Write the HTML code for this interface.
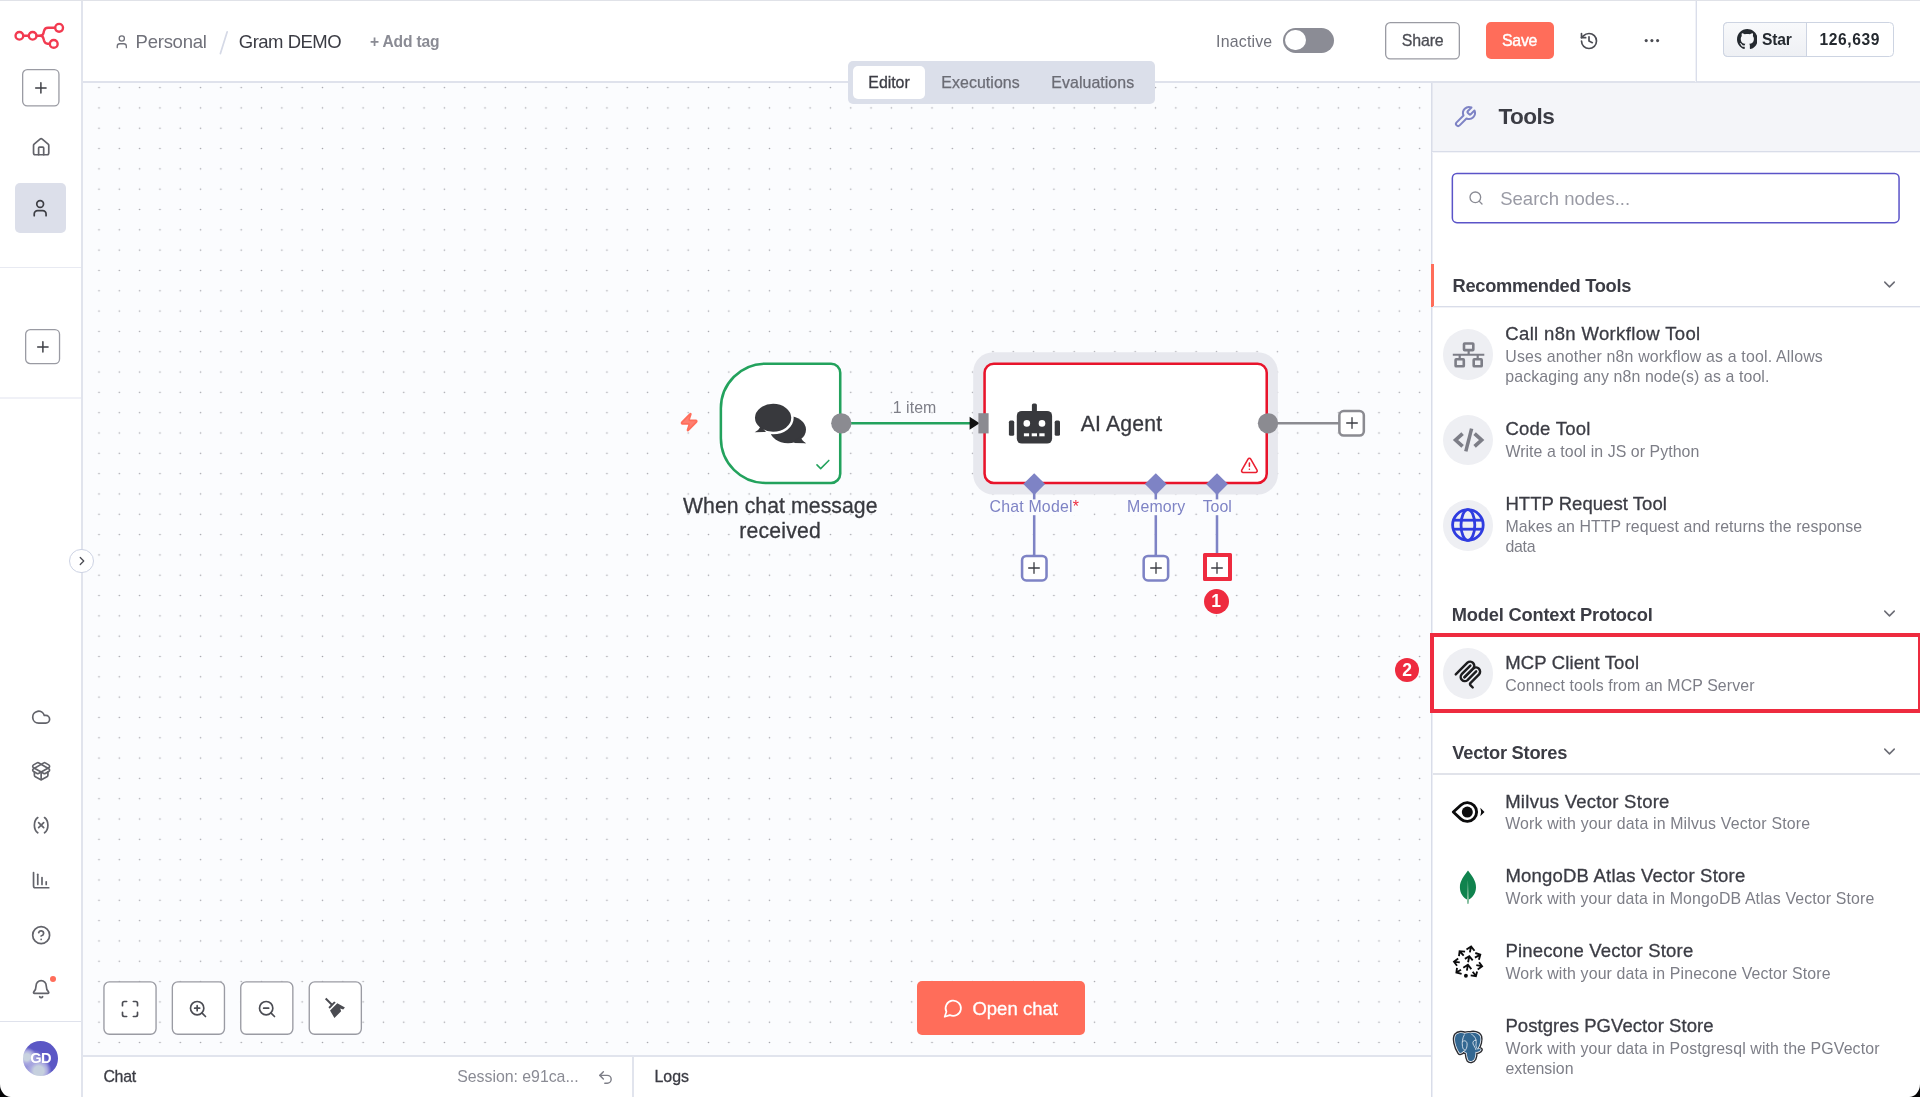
<!DOCTYPE html>
<html lang="en">
<head>
<meta charset="utf-8">
<title>Gram DEMO - n8n</title>
<style>
*{box-sizing:border-box;margin:0;padding:0}
html,body{width:1920px;height:1097px;overflow:hidden;background:#fff}
body{will-change:transform;position:relative;font-family:"Liberation Sans",sans-serif;color:#3b3c44;-webkit-font-smoothing:antialiased}
.abs,.t,svg.i{position:absolute}
.t{white-space:nowrap;line-height:1;display:block}
svg.i{fill:none;stroke:currentColor;stroke-width:2;stroke-linecap:round;stroke-linejoin:round;overflow:visible}
.m5{-webkit-text-stroke:0.35px currentColor}
.ln{position:absolute;background:#e1e4ed}
/* ---------- canvas ---------- */
#canvas{left:83px;top:83px;width:1348px;height:972px;background:#fbfcfe;overflow:hidden}
/* ---------- sidebar ---------- */
#side{left:0;top:0;width:83px;height:1097px;background:#fff;border-right:2px solid #e1e4ed}
.sqbtn{position:absolute;background:#fff;border:1.3px solid #96969e;border-radius:5px}
/* ---------- header ---------- */
#head{left:83px;top:0;width:1837px;height:83px;background:#fff;border-bottom:2px solid #dfe2ec}
/* ---------- panel ---------- */
#panel{left:1431px;top:83px;width:489px;height:1014px;background:#fff;border-left:1px solid #d9dde9;box-shadow:inset 1px 0 0 #eceef5}
#phead{left:1432px;top:83px;width:488px;height:69px;background:#f4f5f9;border-bottom:1px solid #d9dde9;box-shadow:inset 1px 0 0 #e6e8f0,0 1px 0 #f3f4f8}
.circ{position:absolute;width:50.5px;height:50.5px;border-radius:50%;background:#eeeff3}
/* ---------- bottom chat bar ---------- */
#chatbar{left:83px;top:1055px;width:1348px;height:42px;background:#fff;border-top:2px solid #e1e4ed}
.red{color:#ee2b3f}
</style>
</head>
<body>
<!--CANVAS-->
<div class="abs" id="canvas"></div>
<svg class="abs" style="left:83px;top:83px" width="1348" height="972" viewBox="83 83 1348 972">
  <defs>
    <pattern id="dots" patternUnits="userSpaceOnUse" x="88.84" y="77.44" width="20.3175" height="20.3175">
      <circle cx="10.16" cy="10.16" r="0.8" fill="#a2a2a9"/>
    </pattern>
  </defs>
  <rect x="83" y="83" width="1348" height="972" fill="url(#dots)"/>
  <!-- AI agent halo -->
  <rect x="973.2" y="352.2" width="304.7" height="142.2" rx="20" fill="#e7e8ee"/>
  <!-- main edge trigger -> agent -->
  <line x1="841" y1="423.3" x2="971" y2="423.3" stroke="#23a25d" stroke-width="2.54"/>
  <path d="M969.6 416.8 L979.6 423.3 L969.6 429.8 Z" fill="#111"/>
  <!-- agent output edge -->
  <line x1="1268" y1="423.3" x2="1339" y2="423.3" stroke="#8b8b91" stroke-width="2.54"/>
  <!-- ai sub-connection lines -->
  <g stroke="#7e83c5" stroke-width="2.54">
    <line x1="1034.2" y1="484" x2="1034.2" y2="556"/>
    <line x1="1155.8" y1="484" x2="1155.8" y2="556"/>
    <line x1="1217" y1="484" x2="1217" y2="556"/>
  </g>
  <!-- trigger node -->
  <path d="M765.57 363.67H831.03A9.2 9.2 0 0 1 840.23 372.87V473.73A9.2 9.2 0 0 1 831.03 482.93H765.57A44.7 44.7 0 0 1 720.87 438.23V408.37A44.7 44.7 0 0 1 765.57 363.67Z" fill="#fff" stroke="#23a25d" stroke-width="2.54"/>
  <circle cx="841.3" cy="423.3" r="10.15" fill="#8b8b91"/>
  <!-- agent node -->
  <rect x="984.57" y="363.67" width="282.16" height="119.26" rx="9.2" fill="#fff" stroke="#e8142b" stroke-width="2.54"/>
  <rect x="978.4" y="413.2" width="10.2" height="20.2" fill="#8b8b91"/>
  <circle cx="1268" cy="423.3" r="10.15" fill="#8b8b91"/>
  <g fill="#7e83c5"><path d="M1034.2 473.2 L1045.1 484.1 L1034.2 495 L1023.3 484.1Z"/><path d="M1155.8 473.2 L1166.7 484.1 L1155.8 495 L1144.9 484.1Z"/><path d="M1217 473.2 L1227.9 484.1 L1217 495 L1206.1 484.1Z"/></g>
  <!-- plus boxes -->
  <rect x="1339.37" y="411.07" width="24.46" height="24.46" rx="4.3" fill="#fff" stroke="#8b8b91" stroke-width="2.54"/>
  <rect x="1022.07" y="555.97" width="24.46" height="24.46" rx="4.3" fill="#fff" stroke="#7e83c5" stroke-width="2.54"/>
  <rect x="1143.67" y="555.97" width="24.46" height="24.46" rx="4.3" fill="#fff" stroke="#7e83c5" stroke-width="2.54"/>
  <!-- label backgrounds -->
  <g fill="#fbfcfe"><rect x="987" y="499.4" width="95" height="15.8"/><rect x="1125" y="499.4" width="63" height="15.8"/><rect x="1200" y="499.4" width="34" height="15.8"/></g>
</svg>
<svg class="i" style="left:678.75px;top:411.95px;color:#ff6d5a;stroke-width:2" width="20.3" height="20.3" viewBox="0 0 24 24"><path d="M4 14a1 1 0 0 1-.78-1.63l9.9-10.2a.5.5 0 0 1 .86.46l-1.92 6.02A1 1 0 0 0 13 10h7a1 1 0 0 1 .78 1.63l-9.9 10.2a.5.5 0 0 1-.86-.46l1.92-6.02A1 1 0 0 0 11 14z" fill="#ff7f70"/></svg>
<svg class="abs" style="left:750px;top:400px" width="60" height="48" viewBox="750 400 60 48">
  <g fill="#38393d">
    <ellipse cx="788" cy="429.7" rx="18" ry="13.6"/>
    <path d="M797 438 L806 443.2 L794 443 Z"/>
    <path d="M800 436 Q802 441 806 443.2 L796 442 Z"/>
  </g>
  <ellipse cx="773.1" cy="417.8" rx="18.1" ry="14" fill="#38393d" stroke="#fff" stroke-width="5"/>
  <g fill="#38393d">
    <ellipse cx="773.1" cy="417.8" rx="18.1" ry="14"/>
    <path d="M761 426 Q759 430 754.7 432.2 L766 432 Z"/>
  </g>
</svg>
<svg class="i" style="left:813.5px;top:456px;color:#23a25d;stroke-width:2.1" width="17.8" height="17.8" viewBox="0 0 24 24"><path d="M20 6 9 17l-5-5"/></svg>
<span class="t" style="left:683.00px;top:495px;font-size:21.2px;letter-spacing:0.086px;color:#38393f;-webkit-text-stroke:.3px #38393f;">When chat message</span>
<span class="t" style="left:739.30px;top:520px;font-size:21.2px;letter-spacing:0.188px;color:#38393f;-webkit-text-stroke:.3px #38393f;">received</span>
<span class="t" style="left:892.70px;top:400px;font-size:15.9px;letter-spacing:0.070px;color:#7d7e87;">1 item</span>
<!-- AI agent node -->
<svg class="abs" style="left:1006px;top:401px" width="58" height="46" viewBox="1006 401 58 46">
  <g fill="#38393d">
    <rect x="1016.8" y="410.9" width="35.3" height="32.7" rx="5"/>
    <rect x="1031.9" y="403.4" width="5" height="9" rx="1.6"/>
    <rect x="1008.9" y="420.6" width="5.3" height="15.2" rx="1.6"/>
    <rect x="1054.7" y="420.6" width="5.3" height="15.2" rx="1.6"/>
  </g>
  <g fill="#fff">
    <circle cx="1026.8" cy="423.4" r="3.3"/><circle cx="1042" cy="423.4" r="3.3"/>
    <rect x="1023.9" y="433.3" width="5.2" height="3"/><rect x="1031.7" y="433.3" width="5.3" height="3"/><rect x="1039.3" y="433.3" width="5.3" height="3"/>
  </g>
</svg>
<span class="t" style="left:1080.80px;top:413px;font-size:21.2px;letter-spacing:0.161px;color:#38393f;-webkit-text-stroke:.3px #38393f;">AI Agent</span>
<svg class="i" style="left:1239.5px;top:455.5px;color:#ea1f30;stroke-width:2" width="18.8" height="18.8" viewBox="0 0 24 24"><path d="m21.73 18-8-14a2 2 0 0 0-3.48 0l-8 14A2 2 0 0 0 4 21h16a2 2 0 0 0 1.73-3"/><path d="M12 9v4"/><path d="M12 17h.01"/></svg>
<!-- output plus -->
<svg class="i" style="left:1343.6px;top:415.3px;color:#3d3e44;stroke-width:2" width="16" height="16" viewBox="0 0 24 24"><path d="M4 12h16"/><path d="M12 4v16"/></svg>
<!-- labels -->
<span class="t" style="left:989.60px;top:499px;font-size:15.9px;letter-spacing:0.177px;color:#7e83c5;">Chat Model<span class="red">*</span></span>
<span class="t" style="left:1127.10px;top:499px;font-size:15.9px;letter-spacing:0.135px;color:#7e83c5;">Memory</span>
<span class="t" style="left:1202.70px;top:499px;font-size:15.9px;letter-spacing:-0.014px;color:#7e83c5;">Tool</span>
<!-- plus boxes -->
<svg class="i" style="left:1026.3px;top:560.2px;color:#3d3e44;stroke-width:2" width="16" height="16" viewBox="0 0 24 24"><path d="M4 12h16"/><path d="M12 4v16"/></svg>
<svg class="i" style="left:1147.9px;top:560.2px;color:#3d3e44;stroke-width:2" width="16" height="16" viewBox="0 0 24 24"><path d="M4 12h16"/><path d="M12 4v16"/></svg>
<div class="abs" style="left:1203.3px;top:552.8px;width:29px;height:28.4px;background:#fff;border:4px solid #ee2b3f;border-radius:1.5px"></div>
<svg class="i" style="left:1209px;top:560.2px;color:#3d3e44;stroke-width:2" width="16" height="16" viewBox="0 0 24 24"><path d="M4 12h16"/><path d="M12 4v16"/></svg>
<div class="abs" style="left:1203.6px;top:588.8px;width:25px;height:25px;border-radius:50%;background:#ee2b3f"></div>
<span class="t" style="left:1211.20px;top:593px;font-size:17.5px;font-weight:700;color:#fff;">1</span>
<!-- canvas controls -->
<svg class="abs" style="left:100px;top:978px" width="266" height="60" viewBox="100 978 266 60" fill="#fff" stroke="#9a9ba3" stroke-width="1.35">
  <rect x="103.95" y="981.85" width="52.1" height="52.4" rx="5.4"/><rect x="172.35" y="981.85" width="52.1" height="52.4" rx="5.4"/><rect x="240.75" y="981.85" width="52.1" height="52.4" rx="5.4"/><rect x="309.25" y="981.85" width="52.1" height="52.4" rx="5.4"/>
</svg>
<svg class="i" style="left:119.7px;top:998.5px;color:#4b4c53" width="20" height="20" viewBox="0 0 24 24"><path d="M8 3H5a2 2 0 0 0-2 2v3"/><path d="M21 8V5a2 2 0 0 0-2-2h-3"/><path d="M3 16v3a2 2 0 0 0 2 2h3"/><path d="M16 21h3a2 2 0 0 0 2-2v-3"/></svg>
<svg class="i" style="left:188.1px;top:998.5px;color:#4b4c53" width="20" height="20" viewBox="0 0 24 24"><circle cx="11" cy="11" r="8"/><path d="m21 21-4.35-4.35"/><path d="M11 8v6"/><path d="M8 11h6"/></svg>
<svg class="i" style="left:256.5px;top:998.5px;color:#4b4c53" width="20" height="20" viewBox="0 0 24 24"><circle cx="11" cy="11" r="8"/><path d="m21 21-4.35-4.35"/><path d="M8 11h6"/></svg>
<svg class="abs" style="left:300px;top:976px" width="70" height="64" viewBox="0 0 1200 1097" fill="#4a4b51"><path d="M428 397L452 373L560 480L536 504Z"/><path d="M487 535L585 438L612 455L510 560Z"/><path d="M515 590L640 465L770 540L740 575L690 555L705 605L590 720Z"/></svg>
<!-- open chat -->
<div class="abs" style="left:917px;top:981.1px;width:168.4px;height:53.6px;background:#ff6d5a;border-radius:5px"></div>
<svg class="i" style="left:943px;top:998.2px;color:#fff;stroke-width:2" width="20.5" height="20.5" viewBox="0 0 24 24"><path d="M7.9 20A9 9 0 1 0 4 16.1L2 22Z"/></svg>
<span class="t" style="left:972.40px;top:1000px;font-size:18.5px;letter-spacing:0.025px;color:#fff;-webkit-text-stroke:.3px #fff;">Open chat</span>
<!--/CANVAS-->
<!--SIDEBAR-->
<div class="abs" id="side"></div>
<!-- n8n logo -->
<svg class="abs" style="left:12px;top:20px" width="56" height="32" viewBox="12 20 56 32" fill="none" stroke="#f23a50" stroke-width="2.4" stroke-linecap="round">
  <circle cx="19.4" cy="35.8" r="3.85"/><circle cx="32.65" cy="35.8" r="3.85"/>
  <circle cx="59.1" cy="27.8" r="3.9"/><circle cx="53.75" cy="43.9" r="3.9"/>
  <path d="M23.4 35.8H28.6"/>
  <path d="M36.6 35.8H40.4C42.5 35.8 43.2 34.5 43.6 32.7L43.9 31.2C44.5 28.8 45.8 27.8 48 27.8H55"/>
  <path d="M40.4 35.8C42.5 35.8 43.2 37.1 43.6 38.9L43.9 40.3C44.5 42.6 45.6 43.7 47.6 43.8H49.8"/>
</svg>
<svg class="abs" style="left:19.0px;top:65.6px" width="43.6" height="43.6" viewBox="-3 -3 43.6 43.6"><rect x="0.65" y="0.65" width="36.30" height="36.30" rx="4.6" fill="#fff" stroke="#9a9ba3" stroke-width="1.3"/></svg>
<svg class="i" style="left:31.9px;top:78.6px;color:#3d3e44;stroke-width:2" width="17.8" height="17.8" viewBox="0 0 24 24"><path d="M5 12h14"/><path d="M12 5v14"/></svg>
<svg class="i" style="left:30.7px;top:137.1px;color:#62636a" width="20.3" height="20.3" viewBox="0 0 24 24"><path d="M15 21v-8a1 1 0 0 0-1-1h-4a1 1 0 0 0-1 1v8"/><path d="M3 10a2 2 0 0 1 .709-1.528l7-5.999a2 2 0 0 1 2.582 0l7 5.999A2 2 0 0 1 21 10v9a2 2 0 0 1-2 2H5a2 2 0 0 1-2-2z"/></svg>
<div class="abs" style="left:15.2px;top:183px;width:50.8px;height:50.4px;border-radius:5px;background:#dcdfea"></div>
<svg class="i" style="left:30.4px;top:198px;color:#3d3e44" width="20.3" height="20.3" viewBox="0 0 24 24"><path d="M19 21v-2a4 4 0 0 0-4-4H9a4 4 0 0 0-4 4v2"/><circle cx="12" cy="7" r="4"/></svg>
<div class="ln" style="left:0;top:267px;width:81px;height:1px;background:#e8eaf2"></div>
<svg class="abs" style="left:22.4px;top:326.0px" width="41.2" height="41.2" viewBox="-3 -3 41.2 41.2"><rect x="0.65" y="0.65" width="33.90" height="33.90" rx="4.6" fill="#fff" stroke="#9a9ba3" stroke-width="1.3"/></svg>
<svg class="i" style="left:34.4px;top:337.8px;color:#3d3e44;stroke-width:2" width="17.8" height="17.8" viewBox="0 0 24 24"><path d="M5 12h14"/><path d="M12 5v14"/></svg>
<div class="ln" style="left:0;top:397px;width:81px;height:2px;background:#f0f1f7"></div>
<!-- bottom icons -->
<svg class="i" style="left:30.7px;top:706.7px;color:#62636a" width="20.3" height="20.3" viewBox="0 0 24 24"><path d="M17.5 19H9a7 7 0 1 1 6.71-9h1.79a4.5 4.5 0 1 1 0 9Z"/></svg>
<svg class="i" style="left:30.7px;top:760.7px;color:#62636a" width="20.3" height="20.3" viewBox="0 0 24 24"><path d="M12 22v-9"/><path d="M15.17 2.21a1.67 1.67 0 0 1 1.63 0L21 4.57a1.93 1.93 0 0 1 0 3.36L8.82 14.79a1.655 1.655 0 0 1-1.64 0L3 12.43a1.93 1.93 0 0 1 0-3.36z"/><path d="M20 13v3.87a2.06 2.06 0 0 1-1.11 1.83l-6 3.08a1.93 1.93 0 0 1-1.78 0l-6-3.08A2.06 2.06 0 0 1 4 16.87V13"/><path d="M21 12.43a1.93 1.93 0 0 0 0-3.36L8.83 2.2a1.64 1.64 0 0 0-1.63 0L3 4.57a1.93 1.93 0 0 0 0 3.36l12.18 6.86a1.636 1.636 0 0 0 1.63 0z"/></svg>
<svg class="i" style="left:30.7px;top:815.3px;color:#62636a" width="20.3" height="20.3" viewBox="0 0 24 24"><path d="M8 21s-4-3-4-9 4-9 4-9"/><path d="M16 3s4 3 4 9-4 9-4 9"/><path d="M15 9l-6 6"/><path d="M9 9l6 6"/></svg>
<svg class="i" style="left:30.7px;top:869.9px;color:#62636a" width="20.3" height="20.3" viewBox="0 0 24 24"><path d="M13 17V9"/><path d="M18 17v-3"/><path d="M3 3v16a2 2 0 0 0 2 2h16"/><path d="M8 17V5"/></svg>
<svg class="i" style="left:30.7px;top:924.5px;color:#62636a" width="20.3" height="20.3" viewBox="0 0 24 24"><circle cx="12" cy="12" r="10"/><path d="M9.09 9a3 3 0 0 1 5.83 1c0 2-3 3-3 3"/><path d="M12 17h.01"/></svg>
<svg class="i" style="left:30.7px;top:978.9px;color:#62636a" width="20.3" height="20.3" viewBox="0 0 24 24"><path d="M10.268 21a2 2 0 0 0 3.464 0"/><path d="M3.262 15.326A1 1 0 0 0 4 17h16a1 1 0 0 0 .74-1.673C19.41 13.956 18 12.499 18 8A6 6 0 0 0 6 8c0 4.499-1.411 5.956-2.738 7.326"/></svg>
<div class="abs" style="left:49.9px;top:976px;width:6.3px;height:6.3px;border-radius:50%;background:#ff6d5a"></div>
<div class="ln" style="left:0;top:1021px;width:81px;height:1px;background:#dfe2ec"></div>
<!-- avatar -->
<div class="abs" style="left:22.9px;top:1040.9px;width:35.2px;height:35.2px;border-radius:50%;background:radial-gradient(circle at 11% 46%,#c9d3e0 0,#c9d3e0 9%,#aaa9e0 17%,rgba(170,169,224,0) 27%),radial-gradient(circle at 45% 86%,#c6d0de 0,#c6d0de 14%,#aaa9e0 24%,rgba(170,169,224,0) 36%),radial-gradient(circle at 27% 70%,#9a99db 0,#8f8ed6 28%,rgba(91,87,197,0) 46%),#5b57c5"></div>
<span class="t" style="left:30.30px;top:1051px;font-size:14.6px;font-weight:700;letter-spacing:-0.695px;color:#fff;">GD</span>
<!-- collapse handle -->
<div class="abs" style="left:69.1px;top:548.7px;width:24.6px;height:24.6px;border-radius:50%;background:#fff;border:1.3px solid #cdd3e4"></div>
<svg class="i" style="left:74.6px;top:554.2px;color:#4b4c53;stroke-width:2.2" width="14" height="14" viewBox="0 0 24 24"><path d="m9 18 6-6-6-6"/></svg>
<!--/SIDEBAR-->
<!--HEADER-->
<div class="abs" id="head"></div>
<svg class="i" style="left:114.2px;top:34.3px;color:#6f7079;stroke-width:2" width="15.6" height="15.6" viewBox="0 0 24 24"><path d="M19 21v-2a4 4 0 0 0-4-4H9a4 4 0 0 0-4 4v2"/><circle cx="12" cy="7" r="4"/></svg>
<span class="t" style="left:135.60px;top:33px;font-size:18.5px;letter-spacing:-0.252px;color:#70717a;">Personal</span>
<svg class="abs" style="left:218px;top:30px" width="12" height="26" viewBox="218 30 12 26"><path d="M227.2 31.8 L220.4 53.6" stroke="#d5d9e6" stroke-width="1.7" fill="none" stroke-linecap="round"/></svg>
<span class="t" style="left:238.80px;top:33px;font-size:18.5px;letter-spacing:-0.510px;color:#3b3c44;">Gram DEMO</span>
<span class="t" style="left:370.00px;top:34px;font-size:15.6px;font-weight:700;letter-spacing:-0.167px;color:#8a8b94;">+ Add tag</span>
<!-- tabs -->
<div class="abs" style="left:847.5px;top:61px;width:307.6px;height:42.8px;border-radius:5px;background:#dbdfea"></div>
<div class="abs" style="left:852.6px;top:66px;width:72.8px;height:32.8px;border-radius:5px;background:#fff"></div>
<span class="t" style="left:868.30px;top:75px;font-size:15.9px;letter-spacing:-0.019px;color:#3b3c44;-webkit-text-stroke:.3px #3b3c44;">Editor</span>
<span class="t" style="left:941.30px;top:75px;font-size:15.9px;letter-spacing:0.067px;color:#6b6c75;-webkit-text-stroke:.25px #6b6c75;">Executions</span>
<span class="t" style="left:1051.30px;top:75px;font-size:15.9px;letter-spacing:0.068px;color:#6b6c75;-webkit-text-stroke:.25px #6b6c75;">Evaluations</span>
<!-- right actions -->
<span class="t" style="left:1216.10px;top:34px;font-size:15.9px;letter-spacing:0.192px;color:#70717a;">Inactive</span>
<div class="abs" style="left:1282.8px;top:27.6px;width:51.4px;height:25.4px;border-radius:13px;background:#8b8c95"></div>
<div class="abs" style="left:1285.3px;top:30.1px;width:20.4px;height:20.4px;border-radius:50%;background:#fff"></div>
<svg class="abs" style="left:1381.9px;top:18.5px" width="81.0" height="43.6" viewBox="-3 -3 81.0 43.6"><rect x="0.65" y="0.65" width="73.70" height="36.30" rx="4.6" fill="#fff" stroke="#9a9ba3" stroke-width="1.3"/></svg>
<span class="t" style="left:1401.80px;top:33px;font-size:15.9px;letter-spacing:-0.141px;color:#4b4c53;-webkit-text-stroke:.3px #4b4c53;">Share</span>
<div class="abs" style="left:1485.7px;top:21.5px;width:68.6px;height:37.6px;border-radius:5px;background:#ff6d5a"></div>
<span class="t" style="left:1502.00px;top:33px;font-size:15.9px;letter-spacing:-0.259px;color:#fff;-webkit-text-stroke:.4px #fff;">Save</span>
<svg class="i" style="left:1578.6px;top:30.7px;color:#4b4c53;stroke-width:2" width="20" height="20" viewBox="0 0 24 24"><path d="M3 12a9 9 0 1 0 9-9 9.75 9.75 0 0 0-6.74 2.74L3 8"/><path d="M3 3v5h5"/><path d="M12 7v5l4 2"/></svg>
<svg class="abs" style="left:1643px;top:37px" width="18" height="8" viewBox="0 0 18 8" fill="#4b4c53"><circle cx="3.2" cy="3.6" r="1.55"/><circle cx="8.9" cy="3.6" r="1.55"/><circle cx="14.6" cy="3.6" r="1.55"/></svg>
<div class="ln" style="left:1696px;top:0;width:1px;height:82px;background:#dadeea;box-shadow:-1px 0 0 #f1f2f7"></div>
<!-- github star -->
<div class="abs" style="left:1723.1px;top:21.9px;width:171.2px;height:34.8px;border-radius:4.5px;border:1.3px solid #cdd4e2;background:#fff"></div>
<div class="abs" style="left:1723.1px;top:21.9px;width:83.6px;height:34.8px;border-radius:4.5px 0 0 4.5px;border:1.3px solid #cdd4e2;background:linear-gradient(#f8f9fb,#eef0f4)"></div>
<svg class="abs" style="left:1736.8px;top:29px" width="20.6" height="20.6" viewBox="0 0 16 16" fill="#24292f"><path d="M8 0C3.58 0 0 3.58 0 8c0 3.54 2.29 6.53 5.47 7.59.4.07.55-.17.55-.38 0-.19-.01-.82-.01-1.49-2.01.37-2.53-.49-2.69-.94-.09-.23-.48-.94-.82-1.13-.28-.15-.68-.52-.01-.53.63-.01 1.08.58 1.23.82.72 1.21 1.87.87 2.33.66.07-.52.28-.87.51-1.07-1.78-.2-3.64-.89-3.64-3.95 0-.87.31-1.59.82-2.15-.08-.2-.36-1.02.08-2.12 0 0 .67-.21 2.2.82.64-.18 1.32-.27 2-.27.68 0 1.36.09 2 .27 1.53-1.04 2.2-.82 2.2-.82.44 1.1.16 1.92.08 2.12.51.56.82 1.27.82 2.15 0 3.07-1.87 3.75-3.65 3.95.29.25.54.73.54 1.48 0 1.07-.01 1.93-.01 2.2 0 .21.15.46.55.38A8.013 8.013 0 0016 8c0-4.42-3.58-8-8-8z"/></svg>
<span class="t" style="left:1761.90px;top:32px;font-size:15.6px;font-weight:700;letter-spacing:-0.136px;color:#24292f;">Star</span>
<span class="t" style="left:1819.40px;top:32px;font-size:15.6px;font-weight:700;letter-spacing:0.604px;color:#24292f;">126,639</span>
<!--/HEADER-->
<!--PANEL-->
<div class="abs" id="panel"></div>
<div class="abs" id="phead"></div>
<svg class="i" style="left:1452.5px;top:104.6px;color:#7e83c5;stroke-width:2" width="24" height="24" viewBox="0 0 24 24"><path d="M14.7 6.3a1 1 0 0 0 0 1.4l1.6 1.6a1 1 0 0 0 1.4 0l3.77-3.77a6 6 0 0 1-7.94 7.94l-6.91 6.91a2.12 2.12 0 0 1-3-3l6.91-6.91a6 6 0 0 1 7.94-7.94l-3.76 3.76z"/></svg>
<span class="t" style="left:1498.40px;top:106px;font-size:22.6px;font-weight:700;letter-spacing:-0.516px;color:#3b3c44;">Tools</span>
<!-- search -->
<svg class="abs" style="left:1450px;top:171px" width="452" height="54" viewBox="1450 171 452 54"><rect x="1452.35" y="173.55" width="446.7" height="49.1" rx="4.6" fill="#fff" stroke="#5b54c8" stroke-width="1.5"/></svg>
<svg class="i" style="left:1467.6px;top:190px;color:#8a8b94;stroke-width:2" width="16" height="16" viewBox="0 0 24 24"><circle cx="11" cy="11" r="8"/><path d="m21 21-4.3-4.3"/></svg>
<span class="t" style="left:1500.20px;top:190px;font-size:18.5px;letter-spacing:0.027px;color:#9a9ba5;">Search nodes...</span>
<!-- Recommended tools -->
<div class="abs" style="left:1431px;top:264px;width:3px;height:42.6px;background:#ff6d5a"></div>
<span class="t" style="left:1452.50px;top:277px;font-size:18.3px;font-weight:700;letter-spacing:-0.290px;color:#3b3c44;">Recommended Tools</span>
<svg class="i" style="left:1880.2px;top:275.4px;color:#6b6c75;stroke-width:1.9" width="19" height="19" viewBox="0 0 24 24"><path d="m6 9 6 6 6-6"/></svg>
<div class="ln" style="left:1433px;top:306px;width:487px;height:1px;background:#d9dde9;box-shadow:0 1px 0 #f1f2f7"></div>
<div class="circ" style="left:1442.8px;top:329.4px"></div>
<svg class="abs" style="left:1451px;top:340px" width="35" height="30" viewBox="1451 340 35 30" fill="none" stroke="#7d7e87" stroke-width="2.6" stroke-linejoin="round">
  <rect x="1464" y="343.5" width="9.3" height="6.6" rx=".6"/><rect x="1455.6" y="359.3" width="8.2" height="7" rx=".6"/><rect x="1473.7" y="359.3" width="8" height="7" rx=".6"/>
  <path d="M1452.8 354.8H1484.3" stroke-width="2"/><path d="M1468.65 351V354.8" stroke-width="2.2"/><path d="M1459.7 354.8V358.4" stroke-width="2.2"/><path d="M1477.7 354.8V358.4" stroke-width="2.2"/>
</svg>
<span class="t" style="left:1505.30px;top:325px;font-size:18.5px;letter-spacing:0.351px;color:#3b3c44;-webkit-text-stroke:.3px #3b3c44;">Call n8n Workflow Tool</span>
<span class="t" style="left:1505.30px;top:349px;font-size:15.9px;letter-spacing:0.178px;color:#7d7e87;">Uses another n8n workflow as a tool. Allows</span>
<span class="t" style="left:1505.30px;top:369px;font-size:15.9px;letter-spacing:0.100px;color:#7d7e87;">packaging any n8n node(s) as a tool.</span>
<div class="circ" style="left:1442.8px;top:414.8px"></div>
<svg class="abs" style="left:1450px;top:425px" width="37" height="30" viewBox="1450 425 37 30" fill="none" stroke="#7d7e87" stroke-width="3.7" stroke-linejoin="miter">
  <path d="M1462.6 433.6 L1455.6 440 L1462.6 446.4"/><path d="M1474.6 433.6 L1481.6 440 L1474.6 446.4"/><path d="M1471.6 428.6 L1465.8 451.4" stroke-width="3.5"/>
</svg>
<span class="t" style="left:1505.40px;top:420px;font-size:18.5px;letter-spacing:0.246px;color:#3b3c44;-webkit-text-stroke:.3px #3b3c44;">Code Tool</span>
<span class="t" style="left:1505.40px;top:444px;font-size:15.9px;letter-spacing:0.062px;color:#7d7e87;">Write a tool in JS or Python</span>
<div class="circ" style="left:1442.8px;top:500.2px"></div>
<svg class="abs" style="left:1450px;top:507px" width="36" height="36" viewBox="1450 507 36 36" fill="none" stroke="#2f3ce0" stroke-width="2.8">
  <circle cx="1467.9" cy="525" r="15.3"/><ellipse cx="1467.9" cy="525" rx="6.9" ry="15.3"/><path d="M1453.4 520.2H1482.4"/><path d="M1453.4 529.2H1482.4"/>
</svg>
<span class="t" style="left:1505.40px;top:495px;font-size:18.5px;letter-spacing:0.043px;color:#3b3c44;-webkit-text-stroke:.3px #3b3c44;">HTTP Request Tool</span>
<span class="t" style="left:1505.40px;top:519px;font-size:15.9px;letter-spacing:0.082px;color:#7d7e87;">Makes an HTTP request and returns the response</span>
<span class="t" style="left:1505.40px;top:539px;font-size:15.9px;letter-spacing:-0.234px;color:#7d7e87;">data</span>
<!-- Model context protocol -->
<span class="t" style="left:1451.80px;top:606px;font-size:18.3px;font-weight:700;letter-spacing:-0.198px;color:#3b3c44;">Model Context Protocol</span>
<svg class="i" style="left:1880.2px;top:603.6px;color:#6b6c75;stroke-width:1.9" width="19" height="19" viewBox="0 0 24 24"><path d="m6 9 6 6 6-6"/></svg>
<div class="ln" style="left:1432px;top:634.4px;width:488px;height:2px"></div>
<div class="circ" style="left:1442.6px;top:648.4px"></div>
<svg class="abs" style="left:1452.85px;top:658.15px" width="35" height="35" viewBox="0 0 33 33" fill="none" stroke="#1d1d1f" stroke-width="2.3" stroke-linecap="round" stroke-linejoin="round">
  <path d="M2.6 15.4 L13.6 4.4 a3.9 3.9 0 0 1 5.5 5.5 L10.8 18.2"/>
  <path d="M10.9 18.1 L19.1 9.9 a3.9 3.9 0 0 1 5.5 5.5 L16.4 23.7 a1.3 1.3 0 0 0 0 1.85 L18.6 27.8"/>
  <path d="M16.35 7.15 L8.2 15.3 a3.9 3.9 0 0 0 5.5 5.5 L21.85 12.65"/>
</svg>
<span class="t" style="left:1505.20px;top:654px;font-size:18.5px;letter-spacing:0.135px;color:#3b3c44;-webkit-text-stroke:.3px #3b3c44;">MCP Client Tool</span>
<span class="t" style="left:1505.20px;top:678px;font-size:15.9px;letter-spacing:0.102px;color:#7d7e87;">Connect tools from an MCP Server</span>
<!-- Vector stores -->
<span class="t" style="left:1452.30px;top:744px;font-size:18.3px;font-weight:700;letter-spacing:-0.237px;color:#3b3c44;">Vector Stores</span>
<svg class="i" style="left:1880.2px;top:742px;color:#6b6c75;stroke-width:1.9" width="19" height="19" viewBox="0 0 24 24"><path d="m6 9 6 6 6-6"/></svg>
<div class="ln" style="left:1433px;top:773px;width:487px;height:2px;background:#e1e3ea"></div>
<svg class="abs" style="left:1450px;top:798px" width="37" height="28" viewBox="1450 798 37 28">
  <path d="M1453.3 812 L1460.98 804.96 A9.4 9.4 0 1 1 1460.98 819.04 Z" fill="none" stroke="#0b0b0c" stroke-width="2.9" stroke-linejoin="round"/>
  <circle cx="1467.3" cy="812.1" r="5.5" fill="#0b0b0c"/>
  <path d="M1480.3 807.8 Q1482 812 1480.3 816.2 L1484.5 812 Z" fill="#0b0b0c"/>
</svg>
<span class="t" style="left:1505.20px;top:793px;font-size:18.5px;letter-spacing:0.270px;color:#3b3c44;-webkit-text-stroke:.3px #3b3c44;">Milvus Vector Store</span>
<span class="t" style="left:1505.20px;top:816px;font-size:15.9px;letter-spacing:0.161px;color:#7d7e87;">Work with your data in Milvus Vector Store</span>
<svg class="abs" style="left:1458px;top:869px" width="20" height="37" viewBox="1458 869 20 37">
  <path d="M1468 870.6 C1472 876 1476.2 881 1476 887.6 C1475.8 893.6 1472.4 897.6 1468.9 899.6 L1468.4 903.8 L1467.5 903.8 L1467 899.6 C1463.4 897.6 1460 893.6 1459.9 887.6 C1459.8 881 1464 876 1468 870.6Z" fill="#10834e"/>
  <path d="M1467.9 880 L1468.6 899.6 L1468.3 903.6 L1467.6 903.6 L1467.3 899.6Z" fill="#b8d8c0"/>
</svg>
<span class="t" style="left:1505.40px;top:867px;font-size:18.5px;letter-spacing:0.213px;color:#3b3c44;-webkit-text-stroke:.3px #3b3c44;">MongoDB Atlas Vector Store</span>
<span class="t" style="left:1505.40px;top:891px;font-size:15.9px;letter-spacing:0.128px;color:#7d7e87;">Work with your data in MongoDB Atlas Vector Store</span>
<svg class="abs" style="left:1445px;top:940px" width="46" height="44" viewBox="1445 940 46 44" fill="none" stroke="#0b0b0c" stroke-width="1.85" stroke-linejoin="miter">
  <path d="M1466.5 949.4L1471.1 946.4L1474.5 950.8M1471 946.8L1469.9 952.4"/>
  <path d="M1464.9 958.9L1469.3 956.2L1472.7 960.3M1469.2 956.6L1468.1 962.3"/>
  <path d="M1463.3 967.7L1467.9 964.7L1471.3 969.1M1467.8 965.1L1466.9 970.7"/>
  <path d="M1465.1 951.6L1459.6 951.2L1459 956.2M1459.9 951.5L1463.7 955.6"/>
  <path d="M1458.2 958.5L1454 961.7L1457 965.7M1454.4 961.8L1459.8 962.3"/>
  <path d="M1457 967.9L1456.4 972.5L1461.6 973.9M1456.7 972.2L1461 969.7"/>
  <path d="M1475.3 953L1480.3 954.6L1478.9 959.7M1480 954.9L1474.9 957.6"/>
  <path d="M1479.1 962.3L1482.1 966.3L1477.7 969.5M1481.7 966.2L1476.3 965.1"/>
  <path d="M1477.1 971.5L1475.9 976.1L1470.7 975.3M1475.7 975.7L1472.7 971.7"/>
  <circle cx="1465.9" cy="975.7" r="1.95" fill="#0b0b0c" stroke="none"/>
</svg>
<span class="t" style="left:1505.40px;top:942px;font-size:18.5px;letter-spacing:0.186px;color:#3b3c44;-webkit-text-stroke:.3px #3b3c44;">Pinecone Vector Store</span>
<span class="t" style="left:1505.40px;top:966px;font-size:15.9px;letter-spacing:0.133px;color:#7d7e87;">Work with your data in Pinecone Vector Store</span>
<svg class="abs" style="left:1445px;top:1024px" width="46" height="44" viewBox="0 0 1147 1097" stroke-linejoin="round" stroke-linecap="round">
  <defs><path id="pgo" d="M480 200C420 165 300 165 240 230C170 330 220 560 330 730C350 760 400 740 450 680C470 700 500 730 540 740C545 800 560 900 590 950C620 990 720 980 760 900C785 840 790 760 790 710C850 720 920 690 935 650C930 620 880 630 840 625C900 540 950 380 920 280C880 170 720 150 640 185C590 175 530 180 480 200Z"/></defs>
  <g transform="translate(570 572) scale(0.88) translate(-572 -572)">
  <use href="#pgo" fill="#336791" stroke="#2b2c31" stroke-width="125"/>
  <use href="#pgo" fill="#336791" stroke="#f4f6fb" stroke-width="46"/>
  <use href="#pgo" fill="#336791" stroke="none"/>
  <g fill="none" stroke="#f4f6fb" stroke-width="22">
    <path d="M470 230C420 320 400 450 420 560C430 620 450 650 480 660"/>
    <path d="M430 410C500 370 560 420 550 520C545 600 520 650 480 690"/>
    <path d="M680 215C780 270 830 370 800 520C810 580 830 620 850 640"/>
    <path d="M800 380C740 380 700 420 720 490C750 560 790 600 800 650"/>
  </g>
  </g>
</svg>
<span class="t" style="left:1505.40px;top:1017px;font-size:18.5px;letter-spacing:0.070px;color:#3b3c44;-webkit-text-stroke:.3px #3b3c44;">Postgres PGVector Store</span>
<span class="t" style="left:1505.40px;top:1041px;font-size:15.9px;letter-spacing:0.121px;color:#7d7e87;">Work with your data in Postgresql with the PGVector</span>
<span class="t" style="left:1505.40px;top:1061px;font-size:15.9px;letter-spacing:0.019px;color:#7d7e87;">extension</span>
<!-- annotation -->
<div class="abs" style="left:1430px;top:633.2px;width:492px;height:79.8px;border:4px solid #ee2b3f"></div>
<div class="abs" style="left:1394.6px;top:657.6px;width:24.8px;height:24.8px;border-radius:50%;background:#ee2b3f"></div>
<span class="t" style="left:1402.20px;top:662px;font-size:17.5px;font-weight:700;color:#fff;">2</span>
<!--/PANEL-->
<!--CHATBAR-->
<div class="abs" id="chatbar"></div>
<span class="t" style="left:103.40px;top:1069px;font-size:15.9px;letter-spacing:-0.245px;color:#3b3c44;-webkit-text-stroke:.3px #3b3c44;">Chat</span>
<span class="t" style="left:457.20px;top:1069px;font-size:15.9px;letter-spacing:-0.030px;color:#8a8b94;">Session: e91ca...</span>
<svg class="i" style="left:596.8px;top:1068.6px;color:#7d7e87;stroke-width:2" width="17" height="17" viewBox="0 0 24 24"><path d="M9 14 4 9l5-5"/><path d="M4 9h10.5a5.5 5.5 0 0 1 5.5 5.5a5.5 5.5 0 0 1-5.5 5.5H11"/></svg>
<div class="ln" style="left:632px;top:1056px;width:2px;height:41px"></div>
<span class="t" style="left:654.50px;top:1069px;font-size:15.9px;letter-spacing:0.033px;color:#3b3c44;-webkit-text-stroke:.3px #3b3c44;">Logs</span>
<!--/CHATBAR-->
<!--OVERLAY-->
<div class="abs" style="left:0;top:0;width:1920px;height:1px;background:#e0e2e8"></div>
<!-- window corners -->
<svg class="abs" style="left:0;top:1084px" width="12" height="13" viewBox="0 0 12 13"><path d="M0 0 V13 H11 A11 13 0 0 1 0 0Z" fill="#050506"/></svg>
<svg class="abs" style="left:1908px;top:1084px" width="12" height="13" viewBox="0 0 12 13"><path d="M12 0 V13 H1 A11 13 0 0 0 12 0Z" fill="#050506"/></svg>
<!--/OVERLAY-->
</body>
</html>
